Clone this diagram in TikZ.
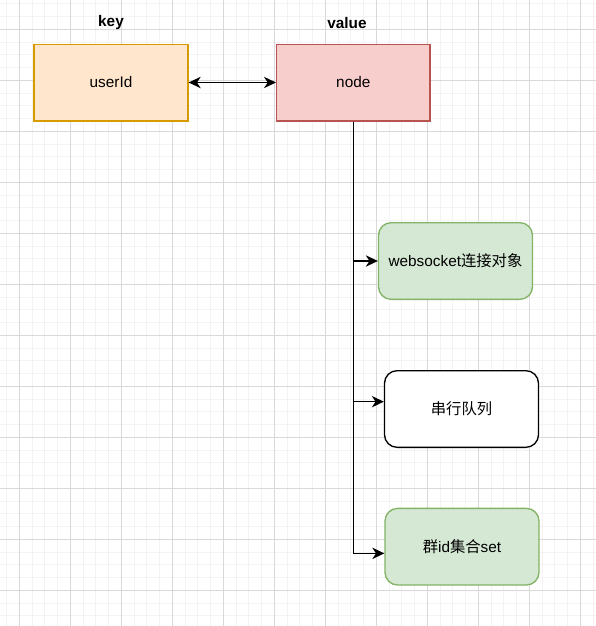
\documentclass[tikz,border=0pt]{standalone}
\usepackage{fontspec}
\setmainfont{Liberation Sans}
\newfontfamily\cjk{Noto Sans CJK SC}
\definecolor{KeyFill}{HTML}{FFE6CC}
\definecolor{KeyLine}{HTML}{D79B00}
\definecolor{ValFill}{HTML}{F8CECC}
\definecolor{ValLine}{HTML}{B85450}
\definecolor{ItemFill}{HTML}{D5E8D4}
\definecolor{ItemLine}{HTML}{82B366}
\definecolor{GridMinor}{HTML}{F3F3F3}
\definecolor{GridMajor}{HTML}{D9D9D9}
\usetikzlibrary{arrows.meta, positioning, calc}

\begin{document}
\begin{tikzpicture}[
  x=0.75pt, y=-0.75pt,
  box/.style={rectangle, draw, line width=1pt, minimum width=115.5pt,
    minimum height=57.5pt, font=\fontsize{11.5}{14}\selectfont, align=center},
  item/.style={box, rounded corners=9.5pt},
  title/.style={font=\fontsize{11.5}{14}\selectfont\bfseries},
  tip/.style={Stealth[length=9pt, width=8.5pt, inset=2.8pt]},
  conn/.style={line width=1pt, -{Stealth[length=9pt, width=8.5pt, inset=2.8pt]}},
  >=Stealth
]
  \useasboundingbox[fill=white] (0,0) rectangle (596,626);
  % background grid
  \foreach \i in {-1,...,45}
    \draw[GridMinor, line width=0.75pt] ({19.3+\i*12.75},0) -- ({19.3+\i*12.75},626);
  \foreach \j in {-2,...,46}
    \draw[GridMinor, line width=0.75pt] (0,{29.3+\j*12.75}) -- (596,{29.3+\j*12.75});
  \foreach \i in {0,...,11}
    \draw[GridMajor, line width=0.75pt] ({19.3+\i*51},0) -- ({19.3+\i*51},626);
  \foreach \j in {0,...,11}
    \draw[GridMajor, line width=0.75pt] (0,{29.3+\j*51}) -- (596,{29.3+\j*51});

  \node[box, fill=KeyFill, draw=KeyLine] (uid) at (111,82.5) {userId};
  \node[box, fill=ValFill, draw=ValLine, minimum width=115pt] (nd) at (353.3,82.5) {node};
  \node[title] (key) at (111,23) {key};
  \node[title] (val) at (347,23) {value};

  \node[item, fill=ItemFill, draw=ItemLine] (ws) at (455.5,261) {websocket{\cjk 连接对象}};
  \node[item, fill=white, draw=black] (queue) at (461.5,409) {{\cjk 串行队列}};
  \node[item, fill=ItemFill, draw=ItemLine] (grp) at (462,546.7) {{\cjk 群}id{\cjk 集合}set};

  \draw[line width=1pt, {Stealth[length=9pt, width=8.5pt, inset=2.8pt]}-{Stealth[length=9pt, width=8.5pt, inset=2.8pt]}] (uid) -- (nd);
  \draw[conn] (nd.south) |- (ws.west);
  \draw[conn] (nd.south) |- ([yshift=5.5pt]queue.west);
  \draw[conn] (nd.south) |- ([yshift=-5pt]grp.west);
\end{tikzpicture}
\end{document}
